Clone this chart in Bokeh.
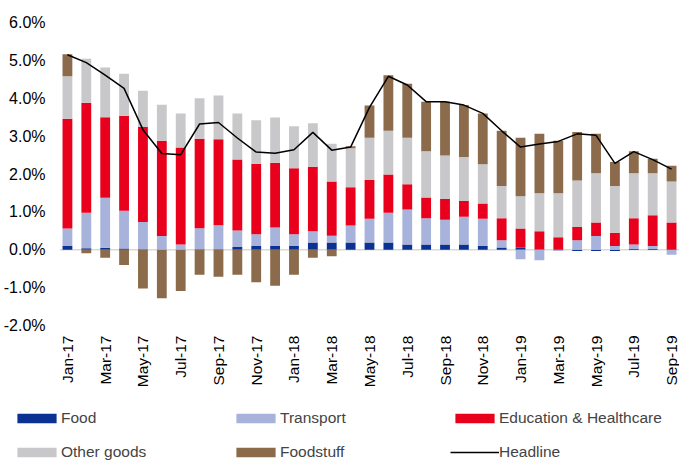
import numpy as np
from bokeh.plotting import figure
from bokeh.models import FixedTicker, Span, Legend, LegendItem, Range1d, ColumnDataSource
from bokeh.embed import file_html
from bokeh.resources import INLINE

months = ["Jan-17", "Feb-17", "Mar-17", "Apr-17", "May-17", "Jun-17", "Jul-17", "Aug-17",
          "Sep-17", "Oct-17", "Nov-17", "Dec-17", "Jan-18", "Feb-18", "Mar-18", "Apr-18",
          "May-18", "Jun-18", "Jul-18", "Aug-18", "Sep-18", "Oct-18", "Nov-18", "Dec-18",
          "Jan-19", "Feb-19", "Mar-19", "Apr-19", "May-19", "Jun-19", "Jul-19", "Aug-19", "Sep-19"]

food = [0.10, 0.04, 0.05, 0.03, 0.01, 0.00, 0.00, 0.01, 0.01, 0.07, 0.10, 0.10,
        0.10, 0.19, 0.19, 0.19, 0.19, 0.19, 0.14, 0.14, 0.14, 0.14, 0.10, 0.06,
        0.06, 0.01, 0.00, -0.03, -0.03, -0.03, 0.02, 0.02, 0.00]
transport = [0.46, 0.94, 1.32, 1.00, 0.72, 0.36, 0.14, 0.56, 0.64, 0.44, 0.31, 0.49,
             0.31, 0.30, 0.18, 0.45, 0.63, 0.79, 0.92, 0.69, 0.65, 0.73, 0.72, 0.19,
             -0.25, -0.28, -0.03, 0.25, 0.36, 0.10, 0.12, 0.08, -0.13]
education = [2.90, 2.90, 2.13, 2.51, 2.51, 2.52, 2.56, 2.36, 2.27, 1.87, 1.86, 1.71,
             1.74, 1.70, 1.43, 1.01, 1.02, 1.01, 0.67, 0.55, 0.55, 0.42, 0.40, 0.58,
             0.50, 0.48, 0.33, 0.35, 0.36, 0.35, 0.69, 0.81, 0.72]
other_goods = [1.12, 1.16, 1.31, 1.11, 0.96, 0.95, 0.90, 1.07, 1.15, 1.22, 1.15, 1.19,
               1.11, 1.15, 1.00, 1.03, 1.12, 1.15, 1.23, 1.22, 1.15, 1.16, 1.04, 0.85,
               0.85, 1.00, 1.16, 1.23, 1.30, 1.23, 1.19, 1.11, 1.08]
foodstuff = [0.58, -0.09, -0.21, -0.40, -1.02, -1.28, -1.09, -0.66, -0.71, -0.66, -0.86, -0.95,
             -0.66, -0.21, -0.17, 0.05, 0.85, 1.47, 1.42, 1.31, 1.42, 1.37, 1.34, 1.46,
             1.55, 1.57, 1.39, 1.28, 1.04, 0.64, 0.58, 0.38, 0.42]
headline = [5.15, 4.94, 4.61, 4.26, 3.17, 2.54, 2.51, 3.32, 3.36, 2.95, 2.58, 2.55,
            2.64, 3.10, 2.63, 2.71, 3.76, 4.58, 4.35, 3.91, 3.91, 3.82, 3.60, 3.14,
            2.71, 2.79, 2.86, 3.06, 3.02, 2.28, 2.59, 2.38, 2.13]

series_names = ["Food", "Transport", "Education & Healthcare", "Other goods", "Foodstuff"]
series_values = [food, transport, education, other_goods, foodstuff]
series_colors = ["#0b3192", "#a7b3da", "#e8001c", "#c8c8ca", "#8b6b4b"]

FONT = "Liberation Sans"
n = len(months)
x = list(range(n))

p = figure(width=679, height=392, output_backend="svg", toolbar_location=None,
           x_range=Range1d(-0.42, 32.42), y_range=Range1d(-2.0, 6.0),
           min_border_left=55, min_border_right=0, min_border_top=22, min_border_bottom=67)
p.outline_line_color = None
p.xgrid.visible = False
p.ygrid.visible = False

zero = Span(location=0, dimension="width", line_color="#d9d9d9", line_width=1.5, level="underlay")
p.add_layout(zero)

# legend-only figure below the chart (its sample glyphs sit outside its ranges)
lg = figure(width=679, height=69, output_backend="svg", toolbar_location=None,
            x_range=Range1d(0, 1), y_range=Range1d(0, 1),
            x_axis_location=None, y_axis_location=None,
            min_border=0, min_border_left=0, min_border_right=0, min_border_top=0, min_border_bottom=0)
lg.grid.visible = False
lg.outline_line_color = None

pos = np.zeros(n)
neg = np.zeros(n)
items = []
for name, vals, color in zip(series_names, series_values, series_colors):
    v = np.array(vals, dtype=float)
    bottom = np.where(v >= 0, pos, neg)
    top = bottom + v
    pos = np.where(v >= 0, top, pos)
    neg = np.where(v < 0, top, neg)
    src = ColumnDataSource(dict(x=x, bottom=bottom, top=top))
    p.vbar(x="x", bottom="bottom", top="top", width=0.52, source=src,
           fill_color=color, line_color=None)
    dummy = lg.vbar(x=[5], bottom=[5], top=[6], width=0.5, fill_color=color, line_color=None)
    items.append(LegendItem(label=name, renderers=[dummy]))

p.line(x, headline, line_color="black", line_width=1.5)
dummy_line = lg.line(x=[5, 6], y=[5, 5], line_color="black", line_width=1.5)
items.append(LegendItem(label="Headline", renderers=[dummy_line]))

p.yaxis.ticker = FixedTicker(ticks=[-2, -1, 0, 1, 2, 3, 4, 5, 6])
p.yaxis.major_label_overrides = {t: f"{t:.1f}%" for t in [-2, -1, 0, 1, 2, 3, 4, 5, 6]}
p.yaxis.axis_line_color = None
p.yaxis.major_tick_line_color = None
p.yaxis.minor_tick_line_color = None
p.yaxis.major_tick_out = 0
p.yaxis.major_label_standoff = 14
p.yaxis.major_label_text_font = FONT
p.yaxis.major_label_text_font_size = "16px"
p.yaxis.major_label_text_color = "black"

xt = list(range(0, n, 2))
p.xaxis.ticker = FixedTicker(ticks=xt)
p.xaxis.major_label_overrides = {i: months[i] for i in xt}
p.xaxis.major_label_orientation = np.pi / 2
p.xaxis.axis_line_color = None
p.xaxis.major_tick_line_color = None
p.xaxis.minor_tick_line_color = None
p.xaxis.major_tick_out = 0
p.xaxis.major_label_standoff = 10
p.xaxis.major_label_text_font = FONT
p.xaxis.major_label_text_font_size = "15.5px"
p.xaxis.major_label_text_color = "black"

legend = Legend(items=items, location=(12, 0), orientation="horizontal", ncols=3,
                glyph_width=49, glyph_height=12, label_width=154, label_height=18,
                label_standoff=0, spacing=16, padding=0, margin=0,
                border_line_color=None, background_fill_alpha=0,
                label_text_font=FONT, label_text_font_size="15.5px")
lg.add_layout(legend, "center")

open("out.html", "w").write(file_html([p, lg], INLINE))
